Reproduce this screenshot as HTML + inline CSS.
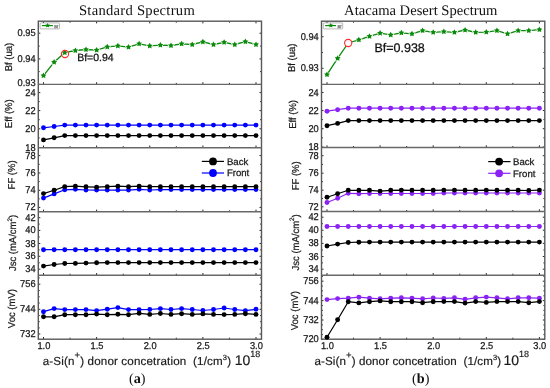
<!DOCTYPE html><html><head><meta charset="utf-8"><title>Spectrum plots</title><style>html,body{margin:0;padding:0;background:#fff;width:550px;height:388px;overflow:hidden}svg{display:block;filter:blur(0.3px)}text{text-rendering:geometricPrecision}</style></head><body>
<svg width="550" height="388" viewBox="0 0 550 388">
<rect width="550" height="388" fill="#fff"/>
<path d="M43.5 84.4v-2.2M43.5 21.2v2.2M70.06 84.4v-1.5M70.06 21.2v1.5M96.62 84.4v-2.2M96.62 21.2v2.2M123.19 84.4v-1.5M123.19 21.2v1.5M149.75 84.4v-2.2M149.75 21.2v2.2M176.31 84.4v-1.5M176.31 21.2v1.5M202.88 84.4v-2.2M202.88 21.2v2.2M229.44 84.4v-1.5M229.44 21.2v1.5M256 84.4v-2.2M256 21.2v2.2M38.3 33.2h2.0M261.5 33.2h-2.0M38.3 58.9h2.0M261.5 58.9h-2.0M38.3 84.4h2.0M261.5 84.4h-2.0M38.3 46.1h1.4M261.5 46.1h-1.4M38.3 71.6h1.4M261.5 71.6h-1.4M43.5 147.7v-2.2M70.06 147.7v-1.5M96.62 147.7v-2.2M123.19 147.7v-1.5M149.75 147.7v-2.2M176.31 147.7v-1.5M202.88 147.7v-2.2M229.44 147.7v-1.5M256 147.7v-2.2M38.3 92.6h2.0M261.5 92.6h-2.0M38.3 110.6h2.0M261.5 110.6h-2.0M38.3 128.8h2.0M261.5 128.8h-2.0M38.3 147.5h2.0M261.5 147.5h-2.0M38.3 101.6h1.4M261.5 101.6h-1.4M38.3 119.7h1.4M261.5 119.7h-1.4M38.3 137.9h1.4M261.5 137.9h-1.4M43.5 211.8v-2.2M70.06 211.8v-1.5M96.62 211.8v-2.2M123.19 211.8v-1.5M149.75 211.8v-2.2M176.31 211.8v-1.5M202.88 211.8v-2.2M229.44 211.8v-1.5M256 211.8v-2.2M38.3 155.6h2.0M261.5 155.6h-2.0M38.3 173h2.0M261.5 173h-2.0M38.3 190.3h2.0M261.5 190.3h-2.0M38.3 207.4h2.0M261.5 207.4h-2.0M38.3 164.3h1.4M261.5 164.3h-1.4M38.3 181.6h1.4M261.5 181.6h-1.4M38.3 198.9h1.4M261.5 198.9h-1.4M43.5 275.2v-2.2M70.06 275.2v-1.5M96.62 275.2v-2.2M123.19 275.2v-1.5M149.75 275.2v-2.2M176.31 275.2v-1.5M202.88 275.2v-2.2M229.44 275.2v-1.5M256 275.2v-2.2M38.3 217.7h2.0M261.5 217.7h-2.0M38.3 230.4h2.0M261.5 230.4h-2.0M38.3 243.5h2.0M261.5 243.5h-2.0M38.3 256.3h2.0M261.5 256.3h-2.0M38.3 269.2h2.0M261.5 269.2h-2.0M38.3 224.1h1.4M261.5 224.1h-1.4M38.3 237h1.4M261.5 237h-1.4M38.3 249.9h1.4M261.5 249.9h-1.4M38.3 262.8h1.4M261.5 262.8h-1.4M43.5 339.2v-2.2M70.06 339.2v-1.5M96.62 339.2v-2.2M123.19 339.2v-1.5M149.75 339.2v-2.2M176.31 339.2v-1.5M202.88 339.2v-2.2M229.44 339.2v-1.5M256 339.2v-2.2M38.3 284.2h2.0M261.5 284.2h-2.0M38.3 309.3h2.0M261.5 309.3h-2.0M38.3 334h2.0M261.5 334h-2.0M38.3 277.9h1.4M261.5 277.9h-1.4M38.3 290.5h1.4M261.5 290.5h-1.4M38.3 296.8h1.4M261.5 296.8h-1.4M38.3 303h1.4M261.5 303h-1.4M38.3 315.5h1.4M261.5 315.5h-1.4M38.3 321.7h1.4M261.5 321.7h-1.4M38.3 327.9h1.4M261.5 327.9h-1.4" stroke="#2a2a2a" stroke-width="1" fill="none"/>
<rect x="38.3" y="21.2" width="223.2" height="318" fill="none" stroke="#585858" stroke-width="1.4"/>
<path d="M38.3 84.4H261.5" stroke="#686868" stroke-width="1.4"/>
<path d="M38.3 147.7H261.5" stroke="#686868" stroke-width="1.4"/>
<path d="M38.3 211.8H261.5" stroke="#686868" stroke-width="1.4"/>
<path d="M38.3 275.2H261.5" stroke="#686868" stroke-width="1.4"/>
<text transform="translate(35.6 36.2) scale(0.2326 0.2475)" font-family="Liberation Sans" font-size="40" text-anchor="end" fill="#1a1a1a" stroke="#1a1a1a" stroke-width="1.051">0.95</text>
<text transform="translate(35.6 61.9) scale(0.2326 0.2475)" font-family="Liberation Sans" font-size="40" text-anchor="end" fill="#1a1a1a" stroke="#1a1a1a" stroke-width="1.051">0.94</text>
<text transform="translate(35.6 86.4) scale(0.2326 0.2475)" font-family="Liberation Sans" font-size="40" text-anchor="end" fill="#1a1a1a" stroke="#1a1a1a" stroke-width="1.051">0.93</text>
<text transform="translate(35.6 95.6) scale(0.2326 0.2475)" font-family="Liberation Sans" font-size="40" text-anchor="end" fill="#1a1a1a" stroke="#1a1a1a" stroke-width="1.051">24</text>
<text transform="translate(35.6 113.6) scale(0.2326 0.2475)" font-family="Liberation Sans" font-size="40" text-anchor="end" fill="#1a1a1a" stroke="#1a1a1a" stroke-width="1.051">22</text>
<text transform="translate(35.6 131.8) scale(0.2326 0.2475)" font-family="Liberation Sans" font-size="40" text-anchor="end" fill="#1a1a1a" stroke="#1a1a1a" stroke-width="1.051">20</text>
<text transform="translate(35.6 150.5) scale(0.2326 0.2475)" font-family="Liberation Sans" font-size="40" text-anchor="end" fill="#1a1a1a" stroke="#1a1a1a" stroke-width="1.051">18</text>
<text transform="translate(35.6 158.6) scale(0.2326 0.2475)" font-family="Liberation Sans" font-size="40" text-anchor="end" fill="#1a1a1a" stroke="#1a1a1a" stroke-width="1.051">78</text>
<text transform="translate(35.6 176) scale(0.2326 0.2475)" font-family="Liberation Sans" font-size="40" text-anchor="end" fill="#1a1a1a" stroke="#1a1a1a" stroke-width="1.051">76</text>
<text transform="translate(35.6 193.3) scale(0.2326 0.2475)" font-family="Liberation Sans" font-size="40" text-anchor="end" fill="#1a1a1a" stroke="#1a1a1a" stroke-width="1.051">74</text>
<text transform="translate(35.6 210.4) scale(0.2326 0.2475)" font-family="Liberation Sans" font-size="40" text-anchor="end" fill="#1a1a1a" stroke="#1a1a1a" stroke-width="1.051">72</text>
<text transform="translate(35.6 220.7) scale(0.2326 0.2475)" font-family="Liberation Sans" font-size="40" text-anchor="end" fill="#1a1a1a" stroke="#1a1a1a" stroke-width="1.051">42</text>
<text transform="translate(35.6 233.4) scale(0.2326 0.2475)" font-family="Liberation Sans" font-size="40" text-anchor="end" fill="#1a1a1a" stroke="#1a1a1a" stroke-width="1.051">40</text>
<text transform="translate(35.6 246.5) scale(0.2326 0.2475)" font-family="Liberation Sans" font-size="40" text-anchor="end" fill="#1a1a1a" stroke="#1a1a1a" stroke-width="1.051">38</text>
<text transform="translate(35.6 259.3) scale(0.2326 0.2475)" font-family="Liberation Sans" font-size="40" text-anchor="end" fill="#1a1a1a" stroke="#1a1a1a" stroke-width="1.051">36</text>
<text transform="translate(35.6 272.2) scale(0.2326 0.2475)" font-family="Liberation Sans" font-size="40" text-anchor="end" fill="#1a1a1a" stroke="#1a1a1a" stroke-width="1.051">34</text>
<text transform="translate(35.6 287.2) scale(0.2326 0.2475)" font-family="Liberation Sans" font-size="40" text-anchor="end" fill="#1a1a1a" stroke="#1a1a1a" stroke-width="1.051">756</text>
<text transform="translate(35.6 312.3) scale(0.2326 0.2475)" font-family="Liberation Sans" font-size="40" text-anchor="end" fill="#1a1a1a" stroke="#1a1a1a" stroke-width="1.051">744</text>
<text transform="translate(35.6 337) scale(0.2326 0.2475)" font-family="Liberation Sans" font-size="40" text-anchor="end" fill="#1a1a1a" stroke="#1a1a1a" stroke-width="1.051">732</text>
<text transform="translate(43.9 348.7) scale(0.2326 0.2475)" font-family="Liberation Sans" font-size="40" text-anchor="middle" fill="#1a1a1a" stroke="#1a1a1a" stroke-width="1.051">1.0</text>
<text transform="translate(97.03 348.7) scale(0.2326 0.2475)" font-family="Liberation Sans" font-size="40" text-anchor="middle" fill="#1a1a1a" stroke="#1a1a1a" stroke-width="1.051">1.5</text>
<text transform="translate(150.15 348.7) scale(0.2326 0.2475)" font-family="Liberation Sans" font-size="40" text-anchor="middle" fill="#1a1a1a" stroke="#1a1a1a" stroke-width="1.051">2.0</text>
<text transform="translate(203.28 348.7) scale(0.2326 0.2475)" font-family="Liberation Sans" font-size="40" text-anchor="middle" fill="#1a1a1a" stroke="#1a1a1a" stroke-width="1.051">2.5</text>
<text transform="translate(256.4 348.7) scale(0.2326 0.2475)" font-family="Liberation Sans" font-size="40" text-anchor="middle" fill="#1a1a1a" stroke="#1a1a1a" stroke-width="1.051">3.0</text>
<text transform="translate(11.9 57) rotate(-90) scale(0.95 1)" font-family="Liberation Sans" font-size="10" text-anchor="middle" fill="#1a1a1a" stroke="#1a1a1a" stroke-width="0.22">Bf (ua)</text>
<text transform="translate(12.2 113.7) rotate(-90) scale(0.95 1)" font-family="Liberation Sans" font-size="10" text-anchor="middle" fill="#1a1a1a" stroke="#1a1a1a" stroke-width="0.22">Eff (%)</text>
<text transform="translate(15.1 174.9) rotate(-90) scale(0.95 1)" font-family="Liberation Sans" font-size="10" text-anchor="middle" fill="#1a1a1a" stroke="#1a1a1a" stroke-width="0.22">FF (%)</text>
<text transform="translate(16.3 243) rotate(-90) scale(0.95 1)" font-family="Liberation Sans" font-size="10" text-anchor="middle" fill="#1a1a1a" stroke="#1a1a1a" stroke-width="0.22">Jsc (mA/cm<tspan font-size='6.5' dy='-4.6'>2</tspan><tspan dy='4.6'>)</tspan></text>
<text transform="translate(14.8 308.6) rotate(-90) scale(0.95 1)" font-family="Liberation Sans" font-size="10" text-anchor="middle" fill="#1a1a1a" stroke="#1a1a1a" stroke-width="0.22">Voc (mV)</text>
<text x="137" y="14.8" font-family="Liberation Serif" font-size="14.6" text-anchor="middle" font-weight="normal" fill="#111" letter-spacing="0.27">Standard Spectrum</text>
<text x="137.2" y="383.2" font-family="Liberation Serif" font-size="14.2" text-anchor="middle" font-weight="normal" fill="#111" >(<tspan font-weight="bold">a</tspan>)</text>
<text x="42.7" y="364.6" font-family="Liberation Sans" font-size="11.6" letter-spacing="0.15" fill="#1a1a1a" stroke="#1a1a1a" stroke-width="0.18">a-Si(n<tspan font-size="9.5" dy="-6.5">+</tspan><tspan dy="6.5">) donor concetration&#160; (1/cm</tspan><tspan font-size="7.5" dy="-4.8">3</tspan><tspan dy="4.8">)</tspan><tspan font-size="14" letter-spacing="0" dx="3.6">10</tspan><tspan font-size="9" dy="-8" letter-spacing="0">18</tspan></text>
<polyline points="43.5,75.6 54.13,62.2 64.75,52.6 75.38,50.5 86,49.5 96.62,50.1 107.25,46.9 117.88,45.9 128.5,47.1 139.12,43.8 149.75,45.9 160.38,45.1 171,45.5 181.62,43.8 192.25,44.5 202.88,41.9 213.5,44.5 224.13,42.3 234.75,44.5 245.38,41.7 256,44.5" fill="none" stroke="#0a8a0a" stroke-width="1.3" stroke-linejoin="round"/>
<polygon points="43.5,72.5 44.47,74.27 46.45,74.64 45.07,76.11 45.32,78.11 43.5,77.25 41.68,78.11 41.93,76.11 40.55,74.64 42.53,74.27" fill="#0a8a0a" stroke="#fff" stroke-width="1.3" paint-order="stroke" stroke-linejoin="round"/>
<polygon points="54.13,59.1 55.09,60.87 57.07,61.24 55.69,62.71 55.95,64.71 54.13,63.85 52.3,64.71 52.56,62.71 51.18,61.24 53.16,60.87" fill="#0a8a0a" stroke="#fff" stroke-width="1.3" paint-order="stroke" stroke-linejoin="round"/>
<polygon points="64.75,49.5 65.72,51.27 67.7,51.64 66.32,53.11 66.57,55.11 64.75,54.25 62.93,55.11 63.18,53.11 61.8,51.64 63.78,51.27" fill="#0a8a0a" stroke="#fff" stroke-width="1.3" paint-order="stroke" stroke-linejoin="round"/>
<polygon points="75.38,47.4 76.34,49.17 78.32,49.54 76.94,51.01 77.2,53.01 75.38,52.15 73.55,53.01 73.81,51.01 72.43,49.54 74.41,49.17" fill="#0a8a0a" stroke="#fff" stroke-width="1.3" paint-order="stroke" stroke-linejoin="round"/>
<polygon points="86,46.4 86.97,48.17 88.95,48.54 87.57,50.01 87.82,52.01 86,51.15 84.18,52.01 84.43,50.01 83.05,48.54 85.03,48.17" fill="#0a8a0a" stroke="#fff" stroke-width="1.3" paint-order="stroke" stroke-linejoin="round"/>
<polygon points="96.62,47 97.59,48.77 99.57,49.14 98.19,50.61 98.45,52.61 96.62,51.75 94.8,52.61 95.06,50.61 93.68,49.14 95.66,48.77" fill="#0a8a0a" stroke="#fff" stroke-width="1.3" paint-order="stroke" stroke-linejoin="round"/>
<polygon points="107.25,43.8 108.22,45.57 110.2,45.94 108.82,47.41 109.07,49.41 107.25,48.55 105.43,49.41 105.68,47.41 104.3,45.94 106.28,45.57" fill="#0a8a0a" stroke="#fff" stroke-width="1.3" paint-order="stroke" stroke-linejoin="round"/>
<polygon points="117.88,42.8 118.84,44.57 120.82,44.94 119.44,46.41 119.7,48.41 117.88,47.55 116.05,48.41 116.31,46.41 114.93,44.94 116.91,44.57" fill="#0a8a0a" stroke="#fff" stroke-width="1.3" paint-order="stroke" stroke-linejoin="round"/>
<polygon points="128.5,44 129.47,45.77 131.45,46.14 130.07,47.61 130.32,49.61 128.5,48.75 126.68,49.61 126.93,47.61 125.55,46.14 127.53,45.77" fill="#0a8a0a" stroke="#fff" stroke-width="1.3" paint-order="stroke" stroke-linejoin="round"/>
<polygon points="139.12,40.7 140.09,42.47 142.07,42.84 140.69,44.31 140.95,46.31 139.12,45.45 137.3,46.31 137.56,44.31 136.18,42.84 138.16,42.47" fill="#0a8a0a" stroke="#fff" stroke-width="1.3" paint-order="stroke" stroke-linejoin="round"/>
<polygon points="149.75,42.8 150.72,44.57 152.7,44.94 151.32,46.41 151.57,48.41 149.75,47.55 147.93,48.41 148.18,46.41 146.8,44.94 148.78,44.57" fill="#0a8a0a" stroke="#fff" stroke-width="1.3" paint-order="stroke" stroke-linejoin="round"/>
<polygon points="160.38,42 161.34,43.77 163.32,44.14 161.94,45.61 162.2,47.61 160.38,46.75 158.55,47.61 158.81,45.61 157.43,44.14 159.41,43.77" fill="#0a8a0a" stroke="#fff" stroke-width="1.3" paint-order="stroke" stroke-linejoin="round"/>
<polygon points="171,42.4 171.97,44.17 173.95,44.54 172.57,46.01 172.82,48.01 171,47.15 169.18,48.01 169.43,46.01 168.05,44.54 170.03,44.17" fill="#0a8a0a" stroke="#fff" stroke-width="1.3" paint-order="stroke" stroke-linejoin="round"/>
<polygon points="181.62,40.7 182.59,42.47 184.57,42.84 183.19,44.31 183.45,46.31 181.62,45.45 179.8,46.31 180.06,44.31 178.68,42.84 180.66,42.47" fill="#0a8a0a" stroke="#fff" stroke-width="1.3" paint-order="stroke" stroke-linejoin="round"/>
<polygon points="192.25,41.4 193.22,43.17 195.2,43.54 193.82,45.01 194.07,47.01 192.25,46.15 190.43,47.01 190.68,45.01 189.3,43.54 191.28,43.17" fill="#0a8a0a" stroke="#fff" stroke-width="1.3" paint-order="stroke" stroke-linejoin="round"/>
<polygon points="202.88,38.8 203.84,40.57 205.82,40.94 204.44,42.41 204.7,44.41 202.88,43.55 201.05,44.41 201.31,42.41 199.93,40.94 201.91,40.57" fill="#0a8a0a" stroke="#fff" stroke-width="1.3" paint-order="stroke" stroke-linejoin="round"/>
<polygon points="213.5,41.4 214.47,43.17 216.45,43.54 215.07,45.01 215.32,47.01 213.5,46.15 211.68,47.01 211.93,45.01 210.55,43.54 212.53,43.17" fill="#0a8a0a" stroke="#fff" stroke-width="1.3" paint-order="stroke" stroke-linejoin="round"/>
<polygon points="224.13,39.2 225.09,40.97 227.07,41.34 225.69,42.81 225.95,44.81 224.13,43.95 222.3,44.81 222.56,42.81 221.18,41.34 223.16,40.97" fill="#0a8a0a" stroke="#fff" stroke-width="1.3" paint-order="stroke" stroke-linejoin="round"/>
<polygon points="234.75,41.4 235.72,43.17 237.7,43.54 236.32,45.01 236.57,47.01 234.75,46.15 232.93,47.01 233.18,45.01 231.8,43.54 233.78,43.17" fill="#0a8a0a" stroke="#fff" stroke-width="1.3" paint-order="stroke" stroke-linejoin="round"/>
<polygon points="245.38,38.6 246.34,40.37 248.32,40.74 246.94,42.21 247.2,44.21 245.38,43.35 243.55,44.21 243.81,42.21 242.43,40.74 244.41,40.37" fill="#0a8a0a" stroke="#fff" stroke-width="1.3" paint-order="stroke" stroke-linejoin="round"/>
<polygon points="256,41.4 256.97,43.17 258.95,43.54 257.57,45.01 257.82,47.01 256,46.15 254.18,47.01 254.43,45.01 253.05,43.54 255.03,43.17" fill="#0a8a0a" stroke="#fff" stroke-width="1.3" paint-order="stroke" stroke-linejoin="round"/>
<circle cx="65" cy="54" r="3.6" fill="none" stroke="#ff2a2a" stroke-width="1.1"/>
<text x="77.2" y="61.3" font-family="Liberation Sans" font-size="10.5" text-anchor="start" font-weight="normal" fill="#111" stroke="#111" stroke-width="0.26" >Bf=0.94</text>
<rect x="40.1" y="22.9" width="19.4" height="6" rx="1" fill="#fff" stroke="#9a9a9a" stroke-width="0.7"/>
<path d="M41.9 25.6h11" stroke="#0a8a0a" stroke-width="1.2"/>
<polygon points="47.6,22.9 48.36,24.45 50.07,24.7 48.84,25.9 49.13,27.6 47.6,26.8 46.07,27.6 46.36,25.9 45.13,24.7 46.84,24.45" fill="#0a8a0a"/>
<text x="54.3" y="27.9" font-family="Liberation Sans" font-size="4.2" text-anchor="start" font-weight="normal" fill="#777" stroke="#777" stroke-width="0.26" >Bf</text>
<polyline points="43.5,127.8 54.13,126.5 64.75,125.1 75.38,125.1 86,125.1 96.62,125.1 107.25,125.1 117.88,125.1 128.5,125.1 139.12,125.1 149.75,125.1 160.38,125.1 171,125.1 181.62,125.1 192.25,125.1 202.88,125.1 213.5,125.1 224.13,125.1 234.75,125.1 245.38,125.1 256,125.1" fill="none" stroke="#0000ff" stroke-width="1.2" stroke-linejoin="round"/>
<circle cx="43.5" cy="127.8" r="2.45" fill="#0000ff"/><circle cx="54.13" cy="126.5" r="2.45" fill="#0000ff"/><circle cx="64.75" cy="125.1" r="2.45" fill="#0000ff"/><circle cx="75.38" cy="125.1" r="2.45" fill="#0000ff"/><circle cx="86" cy="125.1" r="2.45" fill="#0000ff"/><circle cx="96.62" cy="125.1" r="2.45" fill="#0000ff"/><circle cx="107.25" cy="125.1" r="2.45" fill="#0000ff"/><circle cx="117.88" cy="125.1" r="2.45" fill="#0000ff"/><circle cx="128.5" cy="125.1" r="2.45" fill="#0000ff"/><circle cx="139.12" cy="125.1" r="2.45" fill="#0000ff"/><circle cx="149.75" cy="125.1" r="2.45" fill="#0000ff"/><circle cx="160.38" cy="125.1" r="2.45" fill="#0000ff"/><circle cx="171" cy="125.1" r="2.45" fill="#0000ff"/><circle cx="181.62" cy="125.1" r="2.45" fill="#0000ff"/><circle cx="192.25" cy="125.1" r="2.45" fill="#0000ff"/><circle cx="202.88" cy="125.1" r="2.45" fill="#0000ff"/><circle cx="213.5" cy="125.1" r="2.45" fill="#0000ff"/><circle cx="224.13" cy="125.1" r="2.45" fill="#0000ff"/><circle cx="234.75" cy="125.1" r="2.45" fill="#0000ff"/><circle cx="245.38" cy="125.1" r="2.45" fill="#0000ff"/><circle cx="256" cy="125.1" r="2.45" fill="#0000ff"/>
<polyline points="43.5,139.9 54.13,137.8 64.75,135.6 75.38,135.6 86,135.6 96.62,135.6 107.25,135.6 117.88,135.6 128.5,135.6 139.12,135.6 149.75,135.6 160.38,135.6 171,135.6 181.62,135.6 192.25,135.6 202.88,135.6 213.5,135.6 224.13,135.6 234.75,135.6 245.38,135.6 256,135.6" fill="none" stroke="#000000" stroke-width="1.2" stroke-linejoin="round"/>
<circle cx="43.5" cy="139.9" r="2.45" fill="#000000"/><circle cx="54.13" cy="137.8" r="2.45" fill="#000000"/><circle cx="64.75" cy="135.6" r="2.45" fill="#000000"/><circle cx="75.38" cy="135.6" r="2.45" fill="#000000"/><circle cx="86" cy="135.6" r="2.45" fill="#000000"/><circle cx="96.62" cy="135.6" r="2.45" fill="#000000"/><circle cx="107.25" cy="135.6" r="2.45" fill="#000000"/><circle cx="117.88" cy="135.6" r="2.45" fill="#000000"/><circle cx="128.5" cy="135.6" r="2.45" fill="#000000"/><circle cx="139.12" cy="135.6" r="2.45" fill="#000000"/><circle cx="149.75" cy="135.6" r="2.45" fill="#000000"/><circle cx="160.38" cy="135.6" r="2.45" fill="#000000"/><circle cx="171" cy="135.6" r="2.45" fill="#000000"/><circle cx="181.62" cy="135.6" r="2.45" fill="#000000"/><circle cx="192.25" cy="135.6" r="2.45" fill="#000000"/><circle cx="202.88" cy="135.6" r="2.45" fill="#000000"/><circle cx="213.5" cy="135.6" r="2.45" fill="#000000"/><circle cx="224.13" cy="135.6" r="2.45" fill="#000000"/><circle cx="234.75" cy="135.6" r="2.45" fill="#000000"/><circle cx="245.38" cy="135.6" r="2.45" fill="#000000"/><circle cx="256" cy="135.6" r="2.45" fill="#000000"/>
<polyline points="43.5,198.1 54.13,193.9 64.75,189.8 75.38,189.3 86,190 96.62,190.1 107.25,190.1 117.88,190.1 128.5,190.1 139.12,189.3 149.75,190 160.38,189.6 171,189.6 181.62,189.6 192.25,189.6 202.88,189.6 213.5,189.6 224.13,189.6 234.75,189.6 245.38,189.6 256,189.6" fill="none" stroke="#0000ff" stroke-width="1.2" stroke-linejoin="round"/>
<circle cx="43.5" cy="198.1" r="2.45" fill="#0000ff"/><circle cx="54.13" cy="193.9" r="2.45" fill="#0000ff"/><circle cx="64.75" cy="189.8" r="2.45" fill="#0000ff"/><circle cx="75.38" cy="189.3" r="2.45" fill="#0000ff"/><circle cx="86" cy="190" r="2.45" fill="#0000ff"/><circle cx="96.62" cy="190.1" r="2.45" fill="#0000ff"/><circle cx="107.25" cy="190.1" r="2.45" fill="#0000ff"/><circle cx="117.88" cy="190.1" r="2.45" fill="#0000ff"/><circle cx="128.5" cy="190.1" r="2.45" fill="#0000ff"/><circle cx="139.12" cy="189.3" r="2.45" fill="#0000ff"/><circle cx="149.75" cy="190" r="2.45" fill="#0000ff"/><circle cx="160.38" cy="189.6" r="2.45" fill="#0000ff"/><circle cx="171" cy="189.6" r="2.45" fill="#0000ff"/><circle cx="181.62" cy="189.6" r="2.45" fill="#0000ff"/><circle cx="192.25" cy="189.6" r="2.45" fill="#0000ff"/><circle cx="202.88" cy="189.6" r="2.45" fill="#0000ff"/><circle cx="213.5" cy="189.6" r="2.45" fill="#0000ff"/><circle cx="224.13" cy="189.6" r="2.45" fill="#0000ff"/><circle cx="234.75" cy="189.6" r="2.45" fill="#0000ff"/><circle cx="245.38" cy="189.6" r="2.45" fill="#0000ff"/><circle cx="256" cy="189.6" r="2.45" fill="#0000ff"/>
<polyline points="43.5,193.6 54.13,190.3 64.75,186.6 75.38,186.2 86,186.8 96.62,187.2 107.25,186.7 117.88,186.2 128.5,186.7 139.12,186.2 149.75,186.7 160.38,186.7 171,186.7 181.62,186.7 192.25,186.7 202.88,186.7 213.5,186.7 224.13,186.7 234.75,186.7 245.38,186.7 256,186.7" fill="none" stroke="#000000" stroke-width="1.2" stroke-linejoin="round"/>
<circle cx="43.5" cy="193.6" r="2.45" fill="#000000"/><circle cx="54.13" cy="190.3" r="2.45" fill="#000000"/><circle cx="64.75" cy="186.6" r="2.45" fill="#000000"/><circle cx="75.38" cy="186.2" r="2.45" fill="#000000"/><circle cx="86" cy="186.8" r="2.45" fill="#000000"/><circle cx="96.62" cy="187.2" r="2.45" fill="#000000"/><circle cx="107.25" cy="186.7" r="2.45" fill="#000000"/><circle cx="117.88" cy="186.2" r="2.45" fill="#000000"/><circle cx="128.5" cy="186.7" r="2.45" fill="#000000"/><circle cx="139.12" cy="186.2" r="2.45" fill="#000000"/><circle cx="149.75" cy="186.7" r="2.45" fill="#000000"/><circle cx="160.38" cy="186.7" r="2.45" fill="#000000"/><circle cx="171" cy="186.7" r="2.45" fill="#000000"/><circle cx="181.62" cy="186.7" r="2.45" fill="#000000"/><circle cx="192.25" cy="186.7" r="2.45" fill="#000000"/><circle cx="202.88" cy="186.7" r="2.45" fill="#000000"/><circle cx="213.5" cy="186.7" r="2.45" fill="#000000"/><circle cx="224.13" cy="186.7" r="2.45" fill="#000000"/><circle cx="234.75" cy="186.7" r="2.45" fill="#000000"/><circle cx="245.38" cy="186.7" r="2.45" fill="#000000"/><circle cx="256" cy="186.7" r="2.45" fill="#000000"/>
<polyline points="43.5,249.7 54.13,249.7 64.75,249.7 75.38,249.7 86,249.7 96.62,249.7 107.25,249.7 117.88,249.7 128.5,249.7 139.12,249.7 149.75,249.7 160.38,249.7 171,249.7 181.62,249.7 192.25,249.7 202.88,249.7 213.5,249.7 224.13,249.7 234.75,249.7 245.38,249.7 256,249.7" fill="none" stroke="#0000ff" stroke-width="1.2" stroke-linejoin="round"/>
<circle cx="43.5" cy="249.7" r="2.45" fill="#0000ff"/><circle cx="54.13" cy="249.7" r="2.45" fill="#0000ff"/><circle cx="64.75" cy="249.7" r="2.45" fill="#0000ff"/><circle cx="75.38" cy="249.7" r="2.45" fill="#0000ff"/><circle cx="86" cy="249.7" r="2.45" fill="#0000ff"/><circle cx="96.62" cy="249.7" r="2.45" fill="#0000ff"/><circle cx="107.25" cy="249.7" r="2.45" fill="#0000ff"/><circle cx="117.88" cy="249.7" r="2.45" fill="#0000ff"/><circle cx="128.5" cy="249.7" r="2.45" fill="#0000ff"/><circle cx="139.12" cy="249.7" r="2.45" fill="#0000ff"/><circle cx="149.75" cy="249.7" r="2.45" fill="#0000ff"/><circle cx="160.38" cy="249.7" r="2.45" fill="#0000ff"/><circle cx="171" cy="249.7" r="2.45" fill="#0000ff"/><circle cx="181.62" cy="249.7" r="2.45" fill="#0000ff"/><circle cx="192.25" cy="249.7" r="2.45" fill="#0000ff"/><circle cx="202.88" cy="249.7" r="2.45" fill="#0000ff"/><circle cx="213.5" cy="249.7" r="2.45" fill="#0000ff"/><circle cx="224.13" cy="249.7" r="2.45" fill="#0000ff"/><circle cx="234.75" cy="249.7" r="2.45" fill="#0000ff"/><circle cx="245.38" cy="249.7" r="2.45" fill="#0000ff"/><circle cx="256" cy="249.7" r="2.45" fill="#0000ff"/>
<polyline points="43.5,266.1 54.13,264.5 64.75,263.5 75.38,263.4 86,263.1 96.62,262.8 107.25,262.6 117.88,262.6 128.5,262.6 139.12,262.6 149.75,262.6 160.38,262.6 171,262.6 181.62,262.6 192.25,262.6 202.88,262.6 213.5,262.6 224.13,262.6 234.75,262.6 245.38,262.6 256,262.6" fill="none" stroke="#000000" stroke-width="1.2" stroke-linejoin="round"/>
<circle cx="43.5" cy="266.1" r="2.45" fill="#000000"/><circle cx="54.13" cy="264.5" r="2.45" fill="#000000"/><circle cx="64.75" cy="263.5" r="2.45" fill="#000000"/><circle cx="75.38" cy="263.4" r="2.45" fill="#000000"/><circle cx="86" cy="263.1" r="2.45" fill="#000000"/><circle cx="96.62" cy="262.8" r="2.45" fill="#000000"/><circle cx="107.25" cy="262.6" r="2.45" fill="#000000"/><circle cx="117.88" cy="262.6" r="2.45" fill="#000000"/><circle cx="128.5" cy="262.6" r="2.45" fill="#000000"/><circle cx="139.12" cy="262.6" r="2.45" fill="#000000"/><circle cx="149.75" cy="262.6" r="2.45" fill="#000000"/><circle cx="160.38" cy="262.6" r="2.45" fill="#000000"/><circle cx="171" cy="262.6" r="2.45" fill="#000000"/><circle cx="181.62" cy="262.6" r="2.45" fill="#000000"/><circle cx="192.25" cy="262.6" r="2.45" fill="#000000"/><circle cx="202.88" cy="262.6" r="2.45" fill="#000000"/><circle cx="213.5" cy="262.6" r="2.45" fill="#000000"/><circle cx="224.13" cy="262.6" r="2.45" fill="#000000"/><circle cx="234.75" cy="262.6" r="2.45" fill="#000000"/><circle cx="245.38" cy="262.6" r="2.45" fill="#000000"/><circle cx="256" cy="262.6" r="2.45" fill="#000000"/>
<polyline points="43.5,311.7 54.13,308.6 64.75,309.6 75.38,309.6 86,309.6 96.62,310.6 107.25,309.2 117.88,307.6 128.5,309.6 139.12,309.6 149.75,309.5 160.38,308.6 171,309.5 181.62,308.6 192.25,309.5 202.88,310.5 213.5,309.5 224.13,308 234.75,309.5 245.38,310.7 256,309.3" fill="none" stroke="#0000ff" stroke-width="1.2" stroke-linejoin="round"/>
<circle cx="43.5" cy="311.7" r="2.45" fill="#0000ff"/><circle cx="54.13" cy="308.6" r="2.45" fill="#0000ff"/><circle cx="64.75" cy="309.6" r="2.45" fill="#0000ff"/><circle cx="75.38" cy="309.6" r="2.45" fill="#0000ff"/><circle cx="86" cy="309.6" r="2.45" fill="#0000ff"/><circle cx="96.62" cy="310.6" r="2.45" fill="#0000ff"/><circle cx="107.25" cy="309.2" r="2.45" fill="#0000ff"/><circle cx="117.88" cy="307.6" r="2.45" fill="#0000ff"/><circle cx="128.5" cy="309.6" r="2.45" fill="#0000ff"/><circle cx="139.12" cy="309.6" r="2.45" fill="#0000ff"/><circle cx="149.75" cy="309.5" r="2.45" fill="#0000ff"/><circle cx="160.38" cy="308.6" r="2.45" fill="#0000ff"/><circle cx="171" cy="309.5" r="2.45" fill="#0000ff"/><circle cx="181.62" cy="308.6" r="2.45" fill="#0000ff"/><circle cx="192.25" cy="309.5" r="2.45" fill="#0000ff"/><circle cx="202.88" cy="310.5" r="2.45" fill="#0000ff"/><circle cx="213.5" cy="309.5" r="2.45" fill="#0000ff"/><circle cx="224.13" cy="308" r="2.45" fill="#0000ff"/><circle cx="234.75" cy="309.5" r="2.45" fill="#0000ff"/><circle cx="245.38" cy="310.7" r="2.45" fill="#0000ff"/><circle cx="256" cy="309.3" r="2.45" fill="#0000ff"/>
<polyline points="43.5,316.8 54.13,316.8 64.75,314.7 75.38,314.7 86,314.7 96.62,314.1 107.25,314.7 117.88,314.3 128.5,314.7 139.12,313.3 149.75,314.4 160.38,313.5 171,314.4 181.62,313.7 192.25,314.4 202.88,313.9 213.5,314.4 224.13,314.6 234.75,314.4 245.38,313.7 256,314.4" fill="none" stroke="#000000" stroke-width="1.2" stroke-linejoin="round"/>
<circle cx="43.5" cy="316.8" r="2.45" fill="#000000"/><circle cx="54.13" cy="316.8" r="2.45" fill="#000000"/><circle cx="64.75" cy="314.7" r="2.45" fill="#000000"/><circle cx="75.38" cy="314.7" r="2.45" fill="#000000"/><circle cx="86" cy="314.7" r="2.45" fill="#000000"/><circle cx="96.62" cy="314.1" r="2.45" fill="#000000"/><circle cx="107.25" cy="314.7" r="2.45" fill="#000000"/><circle cx="117.88" cy="314.3" r="2.45" fill="#000000"/><circle cx="128.5" cy="314.7" r="2.45" fill="#000000"/><circle cx="139.12" cy="313.3" r="2.45" fill="#000000"/><circle cx="149.75" cy="314.4" r="2.45" fill="#000000"/><circle cx="160.38" cy="313.5" r="2.45" fill="#000000"/><circle cx="171" cy="314.4" r="2.45" fill="#000000"/><circle cx="181.62" cy="313.7" r="2.45" fill="#000000"/><circle cx="192.25" cy="314.4" r="2.45" fill="#000000"/><circle cx="202.88" cy="313.9" r="2.45" fill="#000000"/><circle cx="213.5" cy="314.4" r="2.45" fill="#000000"/><circle cx="224.13" cy="314.6" r="2.45" fill="#000000"/><circle cx="234.75" cy="314.4" r="2.45" fill="#000000"/><circle cx="245.38" cy="313.7" r="2.45" fill="#000000"/><circle cx="256" cy="314.4" r="2.45" fill="#000000"/>
<path d="M201.8 161.4H224" stroke="#000" stroke-width="1.2"/>
<circle cx="213" cy="161.4" r="3.9" fill="#000"/>
<path d="M201.8 173H224" stroke="#0000ff" stroke-width="1.2"/>
<circle cx="213" cy="173" r="3.9" fill="#0000ff"/>
<text x="226.9" y="164.7" font-family="Liberation Sans" font-size="9.6" text-anchor="start" font-weight="normal" fill="#1a1a1a" stroke="#1a1a1a" stroke-width="0.26" >Back</text>
<text x="226.9" y="176.3" font-family="Liberation Sans" font-size="9.6" text-anchor="start" font-weight="normal" fill="#1a1a1a" stroke="#1a1a1a" stroke-width="0.26" >Front</text>
<path d="M327 84.4v-2.2M327 21.2v2.2M353.55 84.4v-1.5M353.55 21.2v1.5M380.1 84.4v-2.2M380.1 21.2v2.2M406.65 84.4v-1.5M406.65 21.2v1.5M433.2 84.4v-2.2M433.2 21.2v2.2M459.75 84.4v-1.5M459.75 21.2v1.5M486.3 84.4v-2.2M486.3 21.2v2.2M512.85 84.4v-1.5M512.85 21.2v1.5M539.4 84.4v-2.2M539.4 21.2v2.2M321.5 36.7h2.0M544.8 36.7h-2.0M321.5 68.3h2.0M544.8 68.3h-2.0M321.5 52.5h1.4M544.8 52.5h-1.4M327 147.5v-2.2M353.55 147.5v-1.5M380.1 147.5v-2.2M406.65 147.5v-1.5M433.2 147.5v-2.2M459.75 147.5v-1.5M486.3 147.5v-2.2M512.85 147.5v-1.5M539.4 147.5v-2.2M321.5 92.5h2.0M544.8 92.5h-2.0M321.5 110.5h2.0M544.8 110.5h-2.0M321.5 128.7h2.0M544.8 128.7h-2.0M321.5 147h2.0M544.8 147h-2.0M321.5 101.5h1.4M544.8 101.5h-1.4M321.5 119.6h1.4M544.8 119.6h-1.4M321.5 137.8h1.4M544.8 137.8h-1.4M327 211.5v-2.2M353.55 211.5v-1.5M380.1 211.5v-2.2M406.65 211.5v-1.5M433.2 211.5v-2.2M459.75 211.5v-1.5M486.3 211.5v-2.2M512.85 211.5v-1.5M539.4 211.5v-2.2M321.5 155.7h2.0M544.8 155.7h-2.0M321.5 173.2h2.0M544.8 173.2h-2.0M321.5 190.2h2.0M544.8 190.2h-2.0M321.5 206.8h2.0M544.8 206.8h-2.0M321.5 164.4h1.4M544.8 164.4h-1.4M321.5 181.7h1.4M544.8 181.7h-1.4M321.5 198.5h1.4M544.8 198.5h-1.4M327 275.2v-2.2M353.55 275.2v-1.5M380.1 275.2v-2.2M406.65 275.2v-1.5M433.2 275.2v-2.2M459.75 275.2v-1.5M486.3 275.2v-2.2M512.85 275.2v-1.5M539.4 275.2v-2.2M321.5 217.2h2.0M544.8 217.2h-2.0M321.5 230.2h2.0M544.8 230.2h-2.0M321.5 243.4h2.0M544.8 243.4h-2.0M321.5 256.5h2.0M544.8 256.5h-2.0M321.5 269.2h2.0M544.8 269.2h-2.0M321.5 223.7h1.4M544.8 223.7h-1.4M321.5 236.8h1.4M544.8 236.8h-1.4M321.5 250h1.4M544.8 250h-1.4M321.5 262.9h1.4M544.8 262.9h-1.4M327 339.2v-2.2M353.55 339.2v-1.5M380.1 339.2v-2.2M406.65 339.2v-1.5M433.2 339.2v-2.2M459.75 339.2v-1.5M486.3 339.2v-2.2M512.85 339.2v-1.5M539.4 339.2v-2.2M321.5 281.2h2.0M544.8 281.2h-2.0M321.5 300.6h2.0M544.8 300.6h-2.0M321.5 320h2.0M544.8 320h-2.0M321.5 339.4h2.0M544.8 339.4h-2.0M321.5 276.4h1.4M544.8 276.4h-1.4M321.5 286.1h1.4M544.8 286.1h-1.4M321.5 290.9h1.4M544.8 290.9h-1.4M321.5 295.8h1.4M544.8 295.8h-1.4M321.5 305.5h1.4M544.8 305.5h-1.4M321.5 310.3h1.4M544.8 310.3h-1.4M321.5 315.2h1.4M544.8 315.2h-1.4M321.5 324.9h1.4M544.8 324.9h-1.4M321.5 329.7h1.4M544.8 329.7h-1.4M321.5 334.6h1.4M544.8 334.6h-1.4" stroke="#2a2a2a" stroke-width="1" fill="none"/>
<rect x="321.5" y="21.2" width="223.3" height="318" fill="none" stroke="#585858" stroke-width="1.4"/>
<path d="M321.5 84.4H544.8" stroke="#686868" stroke-width="1.4"/>
<path d="M321.5 147.5H544.8" stroke="#686868" stroke-width="1.4"/>
<path d="M321.5 211.5H544.8" stroke="#686868" stroke-width="1.4"/>
<path d="M321.5 275.2H544.8" stroke="#686868" stroke-width="1.4"/>
<text transform="translate(318.8 39.7) scale(0.2326 0.2475)" font-family="Liberation Sans" font-size="40" text-anchor="end" fill="#1a1a1a" stroke="#1a1a1a" stroke-width="1.051">0.94</text>
<text transform="translate(318.8 71.3) scale(0.2326 0.2475)" font-family="Liberation Sans" font-size="40" text-anchor="end" fill="#1a1a1a" stroke="#1a1a1a" stroke-width="1.051">0.93</text>
<text transform="translate(318.8 95.5) scale(0.2326 0.2475)" font-family="Liberation Sans" font-size="40" text-anchor="end" fill="#1a1a1a" stroke="#1a1a1a" stroke-width="1.051">24</text>
<text transform="translate(318.8 113.5) scale(0.2326 0.2475)" font-family="Liberation Sans" font-size="40" text-anchor="end" fill="#1a1a1a" stroke="#1a1a1a" stroke-width="1.051">22</text>
<text transform="translate(318.8 131.7) scale(0.2326 0.2475)" font-family="Liberation Sans" font-size="40" text-anchor="end" fill="#1a1a1a" stroke="#1a1a1a" stroke-width="1.051">20</text>
<text transform="translate(318.8 150) scale(0.2326 0.2475)" font-family="Liberation Sans" font-size="40" text-anchor="end" fill="#1a1a1a" stroke="#1a1a1a" stroke-width="1.051">18</text>
<text transform="translate(318.8 158.7) scale(0.2326 0.2475)" font-family="Liberation Sans" font-size="40" text-anchor="end" fill="#1a1a1a" stroke="#1a1a1a" stroke-width="1.051">78</text>
<text transform="translate(318.8 176.2) scale(0.2326 0.2475)" font-family="Liberation Sans" font-size="40" text-anchor="end" fill="#1a1a1a" stroke="#1a1a1a" stroke-width="1.051">76</text>
<text transform="translate(318.8 193.2) scale(0.2326 0.2475)" font-family="Liberation Sans" font-size="40" text-anchor="end" fill="#1a1a1a" stroke="#1a1a1a" stroke-width="1.051">74</text>
<text transform="translate(318.8 209.8) scale(0.2326 0.2475)" font-family="Liberation Sans" font-size="40" text-anchor="end" fill="#1a1a1a" stroke="#1a1a1a" stroke-width="1.051">72</text>
<text transform="translate(318.8 220.2) scale(0.2326 0.2475)" font-family="Liberation Sans" font-size="40" text-anchor="end" fill="#1a1a1a" stroke="#1a1a1a" stroke-width="1.051">42</text>
<text transform="translate(318.8 233.2) scale(0.2326 0.2475)" font-family="Liberation Sans" font-size="40" text-anchor="end" fill="#1a1a1a" stroke="#1a1a1a" stroke-width="1.051">40</text>
<text transform="translate(318.8 246.4) scale(0.2326 0.2475)" font-family="Liberation Sans" font-size="40" text-anchor="end" fill="#1a1a1a" stroke="#1a1a1a" stroke-width="1.051">38</text>
<text transform="translate(318.8 259.5) scale(0.2326 0.2475)" font-family="Liberation Sans" font-size="40" text-anchor="end" fill="#1a1a1a" stroke="#1a1a1a" stroke-width="1.051">36</text>
<text transform="translate(318.8 272.2) scale(0.2326 0.2475)" font-family="Liberation Sans" font-size="40" text-anchor="end" fill="#1a1a1a" stroke="#1a1a1a" stroke-width="1.051">34</text>
<text transform="translate(318.8 284.2) scale(0.2326 0.2475)" font-family="Liberation Sans" font-size="40" text-anchor="end" fill="#1a1a1a" stroke="#1a1a1a" stroke-width="1.051">756</text>
<text transform="translate(318.8 303.6) scale(0.2326 0.2475)" font-family="Liberation Sans" font-size="40" text-anchor="end" fill="#1a1a1a" stroke="#1a1a1a" stroke-width="1.051">744</text>
<text transform="translate(318.8 323) scale(0.2326 0.2475)" font-family="Liberation Sans" font-size="40" text-anchor="end" fill="#1a1a1a" stroke="#1a1a1a" stroke-width="1.051">732</text>
<text transform="translate(318.8 342.4) scale(0.2326 0.2475)" font-family="Liberation Sans" font-size="40" text-anchor="end" fill="#1a1a1a" stroke="#1a1a1a" stroke-width="1.051">720</text>
<text transform="translate(327.4 348.7) scale(0.2326 0.2475)" font-family="Liberation Sans" font-size="40" text-anchor="middle" fill="#1a1a1a" stroke="#1a1a1a" stroke-width="1.051">1.0</text>
<text transform="translate(380.5 348.7) scale(0.2326 0.2475)" font-family="Liberation Sans" font-size="40" text-anchor="middle" fill="#1a1a1a" stroke="#1a1a1a" stroke-width="1.051">1.5</text>
<text transform="translate(433.6 348.7) scale(0.2326 0.2475)" font-family="Liberation Sans" font-size="40" text-anchor="middle" fill="#1a1a1a" stroke="#1a1a1a" stroke-width="1.051">2.0</text>
<text transform="translate(486.7 348.7) scale(0.2326 0.2475)" font-family="Liberation Sans" font-size="40" text-anchor="middle" fill="#1a1a1a" stroke="#1a1a1a" stroke-width="1.051">2.5</text>
<text transform="translate(539.8 348.7) scale(0.2326 0.2475)" font-family="Liberation Sans" font-size="40" text-anchor="middle" fill="#1a1a1a" stroke="#1a1a1a" stroke-width="1.051">3.0</text>
<text transform="translate(294.6 57.8) rotate(-90) scale(0.95 1)" font-family="Liberation Sans" font-size="10" text-anchor="middle" fill="#1a1a1a" stroke="#1a1a1a" stroke-width="0.22">Bf (ua)</text>
<text transform="translate(296.2 114.4) rotate(-90) scale(0.95 1)" font-family="Liberation Sans" font-size="10" text-anchor="middle" fill="#1a1a1a" stroke="#1a1a1a" stroke-width="0.22">Eff (%)</text>
<text transform="translate(298.7 175.8) rotate(-90) scale(0.95 1)" font-family="Liberation Sans" font-size="10" text-anchor="middle" fill="#1a1a1a" stroke="#1a1a1a" stroke-width="0.22">FF (%)</text>
<text transform="translate(299 242.4) rotate(-90) scale(0.95 1)" font-family="Liberation Sans" font-size="10" text-anchor="middle" fill="#1a1a1a" stroke="#1a1a1a" stroke-width="0.22">Jsc (mA/cm<tspan font-size='6.5' dy='-4.6'>2</tspan><tspan dy='4.6'>)</tspan></text>
<text transform="translate(297.9 310.7) rotate(-90) scale(0.95 1)" font-family="Liberation Sans" font-size="10" text-anchor="middle" fill="#1a1a1a" stroke="#1a1a1a" stroke-width="0.22">Voc (mV)</text>
<text x="420.7" y="14.8" font-family="Liberation Serif" font-size="14.6" text-anchor="middle" font-weight="normal" fill="#111" letter-spacing="0">Atacama Desert Spectrum</text>
<text x="420.7" y="383.2" font-family="Liberation Serif" font-size="14.2" text-anchor="middle" font-weight="normal" fill="#111" >(<tspan font-weight="bold">b</tspan>)</text>
<text x="314.5" y="364.6" font-family="Liberation Sans" font-size="11.6" letter-spacing="0.1" fill="#1a1a1a" stroke="#1a1a1a" stroke-width="0.18">a-Si(n<tspan font-size="9.5" dy="-6.5">+</tspan><tspan dy="6.5">) donor concetration&#160; (1/cm</tspan><tspan font-size="7.5" dy="-4.8">3</tspan><tspan dy="4.8">)</tspan><tspan font-size="14" letter-spacing="0" dx="2.2">10</tspan><tspan font-size="9" dy="-8" letter-spacing="0">18</tspan></text>
<polyline points="327,74.6 337.62,58.3 348.24,43 358.86,39.8 369.48,36.3 380.1,33.2 390.72,34.9 401.34,32.8 411.96,33.8 422.58,30.6 433.2,32.3 443.82,31.7 454.44,32.3 465.06,30 475.68,32.3 486.3,32.1 496.92,30.6 507.54,33.8 518.16,30.6 528.78,30.6 539.4,29.6" fill="none" stroke="#0a8a0a" stroke-width="1.3" stroke-linejoin="round"/>
<polygon points="327,71.5 327.97,73.27 329.95,73.64 328.57,75.11 328.82,77.11 327,76.25 325.18,77.11 325.43,75.11 324.05,73.64 326.03,73.27" fill="#0a8a0a" stroke="#fff" stroke-width="1.3" paint-order="stroke" stroke-linejoin="round"/>
<polygon points="337.62,55.2 338.59,56.97 340.57,57.34 339.19,58.81 339.44,60.81 337.62,59.95 335.8,60.81 336.05,58.81 334.67,57.34 336.65,56.97" fill="#0a8a0a" stroke="#fff" stroke-width="1.3" paint-order="stroke" stroke-linejoin="round"/>
<polygon points="348.24,39.9 349.21,41.67 351.19,42.04 349.81,43.51 350.06,45.51 348.24,44.65 346.42,45.51 346.67,43.51 345.29,42.04 347.27,41.67" fill="#0a8a0a" stroke="#fff" stroke-width="1.3" paint-order="stroke" stroke-linejoin="round"/>
<polygon points="358.86,36.7 359.83,38.47 361.81,38.84 360.43,40.31 360.68,42.31 358.86,41.45 357.04,42.31 357.29,40.31 355.91,38.84 357.89,38.47" fill="#0a8a0a" stroke="#fff" stroke-width="1.3" paint-order="stroke" stroke-linejoin="round"/>
<polygon points="369.48,33.2 370.45,34.97 372.43,35.34 371.05,36.81 371.3,38.81 369.48,37.95 367.66,38.81 367.91,36.81 366.53,35.34 368.51,34.97" fill="#0a8a0a" stroke="#fff" stroke-width="1.3" paint-order="stroke" stroke-linejoin="round"/>
<polygon points="380.1,30.1 381.07,31.87 383.05,32.24 381.67,33.71 381.92,35.71 380.1,34.85 378.28,35.71 378.53,33.71 377.15,32.24 379.13,31.87" fill="#0a8a0a" stroke="#fff" stroke-width="1.3" paint-order="stroke" stroke-linejoin="round"/>
<polygon points="390.72,31.8 391.69,33.57 393.67,33.94 392.29,35.41 392.54,37.41 390.72,36.55 388.9,37.41 389.15,35.41 387.77,33.94 389.75,33.57" fill="#0a8a0a" stroke="#fff" stroke-width="1.3" paint-order="stroke" stroke-linejoin="round"/>
<polygon points="401.34,29.7 402.31,31.47 404.29,31.84 402.91,33.31 403.16,35.31 401.34,34.45 399.52,35.31 399.77,33.31 398.39,31.84 400.37,31.47" fill="#0a8a0a" stroke="#fff" stroke-width="1.3" paint-order="stroke" stroke-linejoin="round"/>
<polygon points="411.96,30.7 412.93,32.47 414.91,32.84 413.53,34.31 413.78,36.31 411.96,35.45 410.14,36.31 410.39,34.31 409.01,32.84 410.99,32.47" fill="#0a8a0a" stroke="#fff" stroke-width="1.3" paint-order="stroke" stroke-linejoin="round"/>
<polygon points="422.58,27.5 423.55,29.27 425.53,29.64 424.15,31.11 424.4,33.11 422.58,32.25 420.76,33.11 421.01,31.11 419.63,29.64 421.61,29.27" fill="#0a8a0a" stroke="#fff" stroke-width="1.3" paint-order="stroke" stroke-linejoin="round"/>
<polygon points="433.2,29.2 434.17,30.97 436.15,31.34 434.77,32.81 435.02,34.81 433.2,33.95 431.38,34.81 431.63,32.81 430.25,31.34 432.23,30.97" fill="#0a8a0a" stroke="#fff" stroke-width="1.3" paint-order="stroke" stroke-linejoin="round"/>
<polygon points="443.82,28.6 444.79,30.37 446.77,30.74 445.39,32.21 445.64,34.21 443.82,33.35 442,34.21 442.25,32.21 440.87,30.74 442.85,30.37" fill="#0a8a0a" stroke="#fff" stroke-width="1.3" paint-order="stroke" stroke-linejoin="round"/>
<polygon points="454.44,29.2 455.41,30.97 457.39,31.34 456.01,32.81 456.26,34.81 454.44,33.95 452.62,34.81 452.87,32.81 451.49,31.34 453.47,30.97" fill="#0a8a0a" stroke="#fff" stroke-width="1.3" paint-order="stroke" stroke-linejoin="round"/>
<polygon points="465.06,26.9 466.03,28.67 468.01,29.04 466.63,30.51 466.88,32.51 465.06,31.65 463.24,32.51 463.49,30.51 462.11,29.04 464.09,28.67" fill="#0a8a0a" stroke="#fff" stroke-width="1.3" paint-order="stroke" stroke-linejoin="round"/>
<polygon points="475.68,29.2 476.65,30.97 478.63,31.34 477.25,32.81 477.5,34.81 475.68,33.95 473.86,34.81 474.11,32.81 472.73,31.34 474.71,30.97" fill="#0a8a0a" stroke="#fff" stroke-width="1.3" paint-order="stroke" stroke-linejoin="round"/>
<polygon points="486.3,29 487.27,30.77 489.25,31.14 487.87,32.61 488.12,34.61 486.3,33.75 484.48,34.61 484.73,32.61 483.35,31.14 485.33,30.77" fill="#0a8a0a" stroke="#fff" stroke-width="1.3" paint-order="stroke" stroke-linejoin="round"/>
<polygon points="496.92,27.5 497.89,29.27 499.87,29.64 498.49,31.11 498.74,33.11 496.92,32.25 495.1,33.11 495.35,31.11 493.97,29.64 495.95,29.27" fill="#0a8a0a" stroke="#fff" stroke-width="1.3" paint-order="stroke" stroke-linejoin="round"/>
<polygon points="507.54,30.7 508.51,32.47 510.49,32.84 509.11,34.31 509.36,36.31 507.54,35.45 505.72,36.31 505.97,34.31 504.59,32.84 506.57,32.47" fill="#0a8a0a" stroke="#fff" stroke-width="1.3" paint-order="stroke" stroke-linejoin="round"/>
<polygon points="518.16,27.5 519.13,29.27 521.11,29.64 519.73,31.11 519.98,33.11 518.16,32.25 516.34,33.11 516.59,31.11 515.21,29.64 517.19,29.27" fill="#0a8a0a" stroke="#fff" stroke-width="1.3" paint-order="stroke" stroke-linejoin="round"/>
<polygon points="528.78,27.5 529.75,29.27 531.73,29.64 530.35,31.11 530.6,33.11 528.78,32.25 526.96,33.11 527.21,31.11 525.83,29.64 527.81,29.27" fill="#0a8a0a" stroke="#fff" stroke-width="1.3" paint-order="stroke" stroke-linejoin="round"/>
<polygon points="539.4,26.5 540.37,28.27 542.35,28.64 540.97,30.11 541.22,32.11 539.4,31.25 537.58,32.11 537.83,30.11 536.45,28.64 538.43,28.27" fill="#0a8a0a" stroke="#fff" stroke-width="1.3" paint-order="stroke" stroke-linejoin="round"/>
<circle cx="348.2" cy="43" r="3.6" fill="#fff" stroke="#ff2a2a" stroke-width="1.1"/>
<text x="374.4" y="52.2" font-family="Liberation Sans" font-size="12.5" text-anchor="start" font-weight="normal" fill="#111" stroke="#111" stroke-width="0.26" >Bf=0.938</text>
<rect x="323.3" y="22.9" width="19.4" height="6" rx="1" fill="#fff" stroke="#9a9a9a" stroke-width="0.7"/>
<path d="M325.1 25.6h11" stroke="#0a8a0a" stroke-width="1.2"/>
<polygon points="330.8,22.9 331.56,24.45 333.27,24.7 332.04,25.9 332.33,27.6 330.8,26.8 329.27,27.6 329.56,25.9 328.33,24.7 330.04,24.45" fill="#0a8a0a"/>
<text x="337.5" y="27.9" font-family="Liberation Sans" font-size="4.2" text-anchor="start" font-weight="normal" fill="#777" stroke="#777" stroke-width="0.26" >Bf</text>
<polyline points="327,111.2 337.62,109.7 348.24,108.2 358.86,108.2 369.48,108.2 380.1,108.2 390.72,108.2 401.34,108.2 411.96,108.2 422.58,108.2 433.2,108.2 443.82,108.2 454.44,108.2 465.06,108.2 475.68,108.2 486.3,108.2 496.92,108.2 507.54,108.2 518.16,108.2 528.78,108.2 539.4,108.2" fill="none" stroke="#8a22f4" stroke-width="1.2" stroke-linejoin="round"/>
<circle cx="327" cy="111.2" r="2.45" fill="#8a22f4"/><circle cx="337.62" cy="109.7" r="2.45" fill="#8a22f4"/><circle cx="348.24" cy="108.2" r="2.45" fill="#8a22f4"/><circle cx="358.86" cy="108.2" r="2.45" fill="#8a22f4"/><circle cx="369.48" cy="108.2" r="2.45" fill="#8a22f4"/><circle cx="380.1" cy="108.2" r="2.45" fill="#8a22f4"/><circle cx="390.72" cy="108.2" r="2.45" fill="#8a22f4"/><circle cx="401.34" cy="108.2" r="2.45" fill="#8a22f4"/><circle cx="411.96" cy="108.2" r="2.45" fill="#8a22f4"/><circle cx="422.58" cy="108.2" r="2.45" fill="#8a22f4"/><circle cx="433.2" cy="108.2" r="2.45" fill="#8a22f4"/><circle cx="443.82" cy="108.2" r="2.45" fill="#8a22f4"/><circle cx="454.44" cy="108.2" r="2.45" fill="#8a22f4"/><circle cx="465.06" cy="108.2" r="2.45" fill="#8a22f4"/><circle cx="475.68" cy="108.2" r="2.45" fill="#8a22f4"/><circle cx="486.3" cy="108.2" r="2.45" fill="#8a22f4"/><circle cx="496.92" cy="108.2" r="2.45" fill="#8a22f4"/><circle cx="507.54" cy="108.2" r="2.45" fill="#8a22f4"/><circle cx="518.16" cy="108.2" r="2.45" fill="#8a22f4"/><circle cx="528.78" cy="108.2" r="2.45" fill="#8a22f4"/><circle cx="539.4" cy="108.2" r="2.45" fill="#8a22f4"/>
<polyline points="327,125.7 337.62,123.4 348.24,120.6 358.86,120.6 369.48,120.6 380.1,120.6 390.72,120.6 401.34,120.6 411.96,120.6 422.58,120.6 433.2,120.6 443.82,120.6 454.44,120.6 465.06,120.6 475.68,120.6 486.3,120.6 496.92,120.6 507.54,120.6 518.16,120.6 528.78,120.6 539.4,120.6" fill="none" stroke="#000000" stroke-width="1.2" stroke-linejoin="round"/>
<circle cx="327" cy="125.7" r="2.45" fill="#000000"/><circle cx="337.62" cy="123.4" r="2.45" fill="#000000"/><circle cx="348.24" cy="120.6" r="2.45" fill="#000000"/><circle cx="358.86" cy="120.6" r="2.45" fill="#000000"/><circle cx="369.48" cy="120.6" r="2.45" fill="#000000"/><circle cx="380.1" cy="120.6" r="2.45" fill="#000000"/><circle cx="390.72" cy="120.6" r="2.45" fill="#000000"/><circle cx="401.34" cy="120.6" r="2.45" fill="#000000"/><circle cx="411.96" cy="120.6" r="2.45" fill="#000000"/><circle cx="422.58" cy="120.6" r="2.45" fill="#000000"/><circle cx="433.2" cy="120.6" r="2.45" fill="#000000"/><circle cx="443.82" cy="120.6" r="2.45" fill="#000000"/><circle cx="454.44" cy="120.6" r="2.45" fill="#000000"/><circle cx="465.06" cy="120.6" r="2.45" fill="#000000"/><circle cx="475.68" cy="120.6" r="2.45" fill="#000000"/><circle cx="486.3" cy="120.6" r="2.45" fill="#000000"/><circle cx="496.92" cy="120.6" r="2.45" fill="#000000"/><circle cx="507.54" cy="120.6" r="2.45" fill="#000000"/><circle cx="518.16" cy="120.6" r="2.45" fill="#000000"/><circle cx="528.78" cy="120.6" r="2.45" fill="#000000"/><circle cx="539.4" cy="120.6" r="2.45" fill="#000000"/>
<polyline points="327,202.5 337.62,198.2 348.24,193.3 358.86,193.7 369.48,193.5 380.1,193.5 390.72,193.5 401.34,193.5 411.96,193.5 422.58,193.5 433.2,193.5 443.82,193 454.44,193 465.06,193 475.68,193 486.3,193 496.92,193 507.54,193 518.16,193 528.78,193 539.4,193" fill="none" stroke="#8a22f4" stroke-width="1.2" stroke-linejoin="round"/>
<circle cx="327" cy="202.5" r="2.45" fill="#8a22f4"/><circle cx="337.62" cy="198.2" r="2.45" fill="#8a22f4"/><circle cx="348.24" cy="193.3" r="2.45" fill="#8a22f4"/><circle cx="358.86" cy="193.7" r="2.45" fill="#8a22f4"/><circle cx="369.48" cy="193.5" r="2.45" fill="#8a22f4"/><circle cx="380.1" cy="193.5" r="2.45" fill="#8a22f4"/><circle cx="390.72" cy="193.5" r="2.45" fill="#8a22f4"/><circle cx="401.34" cy="193.5" r="2.45" fill="#8a22f4"/><circle cx="411.96" cy="193.5" r="2.45" fill="#8a22f4"/><circle cx="422.58" cy="193.5" r="2.45" fill="#8a22f4"/><circle cx="433.2" cy="193.5" r="2.45" fill="#8a22f4"/><circle cx="443.82" cy="193" r="2.45" fill="#8a22f4"/><circle cx="454.44" cy="193" r="2.45" fill="#8a22f4"/><circle cx="465.06" cy="193" r="2.45" fill="#8a22f4"/><circle cx="475.68" cy="193" r="2.45" fill="#8a22f4"/><circle cx="486.3" cy="193" r="2.45" fill="#8a22f4"/><circle cx="496.92" cy="193" r="2.45" fill="#8a22f4"/><circle cx="507.54" cy="193" r="2.45" fill="#8a22f4"/><circle cx="518.16" cy="193" r="2.45" fill="#8a22f4"/><circle cx="528.78" cy="193" r="2.45" fill="#8a22f4"/><circle cx="539.4" cy="193" r="2.45" fill="#8a22f4"/>
<polyline points="327,197.3 337.62,193.7 348.24,190.3 358.86,190.3 369.48,190.3 380.1,191.1 390.72,190.3 401.34,190.1 411.96,190.3 422.58,190.3 433.2,190.3 443.82,190.1 454.44,190.1 465.06,190.3 475.68,190.3 486.3,190.1 496.92,190.3 507.54,190.3 518.16,190.3 528.78,190.5 539.4,190.1" fill="none" stroke="#000000" stroke-width="1.2" stroke-linejoin="round"/>
<circle cx="327" cy="197.3" r="2.45" fill="#000000"/><circle cx="337.62" cy="193.7" r="2.45" fill="#000000"/><circle cx="348.24" cy="190.3" r="2.45" fill="#000000"/><circle cx="358.86" cy="190.3" r="2.45" fill="#000000"/><circle cx="369.48" cy="190.3" r="2.45" fill="#000000"/><circle cx="380.1" cy="191.1" r="2.45" fill="#000000"/><circle cx="390.72" cy="190.3" r="2.45" fill="#000000"/><circle cx="401.34" cy="190.1" r="2.45" fill="#000000"/><circle cx="411.96" cy="190.3" r="2.45" fill="#000000"/><circle cx="422.58" cy="190.3" r="2.45" fill="#000000"/><circle cx="433.2" cy="190.3" r="2.45" fill="#000000"/><circle cx="443.82" cy="190.1" r="2.45" fill="#000000"/><circle cx="454.44" cy="190.1" r="2.45" fill="#000000"/><circle cx="465.06" cy="190.3" r="2.45" fill="#000000"/><circle cx="475.68" cy="190.3" r="2.45" fill="#000000"/><circle cx="486.3" cy="190.1" r="2.45" fill="#000000"/><circle cx="496.92" cy="190.3" r="2.45" fill="#000000"/><circle cx="507.54" cy="190.3" r="2.45" fill="#000000"/><circle cx="518.16" cy="190.3" r="2.45" fill="#000000"/><circle cx="528.78" cy="190.5" r="2.45" fill="#000000"/><circle cx="539.4" cy="190.1" r="2.45" fill="#000000"/>
<polyline points="327,226.5 337.62,226.5 348.24,226.5 358.86,226.5 369.48,226.5 380.1,226.5 390.72,226.5 401.34,226.5 411.96,226.5 422.58,226.5 433.2,226.5 443.82,226.5 454.44,226.5 465.06,226.5 475.68,226.5 486.3,226.5 496.92,226.5 507.54,226.5 518.16,226.5 528.78,226.5 539.4,226.5" fill="none" stroke="#8a22f4" stroke-width="1.2" stroke-linejoin="round"/>
<circle cx="327" cy="226.5" r="2.45" fill="#8a22f4"/><circle cx="337.62" cy="226.5" r="2.45" fill="#8a22f4"/><circle cx="348.24" cy="226.5" r="2.45" fill="#8a22f4"/><circle cx="358.86" cy="226.5" r="2.45" fill="#8a22f4"/><circle cx="369.48" cy="226.5" r="2.45" fill="#8a22f4"/><circle cx="380.1" cy="226.5" r="2.45" fill="#8a22f4"/><circle cx="390.72" cy="226.5" r="2.45" fill="#8a22f4"/><circle cx="401.34" cy="226.5" r="2.45" fill="#8a22f4"/><circle cx="411.96" cy="226.5" r="2.45" fill="#8a22f4"/><circle cx="422.58" cy="226.5" r="2.45" fill="#8a22f4"/><circle cx="433.2" cy="226.5" r="2.45" fill="#8a22f4"/><circle cx="443.82" cy="226.5" r="2.45" fill="#8a22f4"/><circle cx="454.44" cy="226.5" r="2.45" fill="#8a22f4"/><circle cx="465.06" cy="226.5" r="2.45" fill="#8a22f4"/><circle cx="475.68" cy="226.5" r="2.45" fill="#8a22f4"/><circle cx="486.3" cy="226.5" r="2.45" fill="#8a22f4"/><circle cx="496.92" cy="226.5" r="2.45" fill="#8a22f4"/><circle cx="507.54" cy="226.5" r="2.45" fill="#8a22f4"/><circle cx="518.16" cy="226.5" r="2.45" fill="#8a22f4"/><circle cx="528.78" cy="226.5" r="2.45" fill="#8a22f4"/><circle cx="539.4" cy="226.5" r="2.45" fill="#8a22f4"/>
<polyline points="327,246 337.62,244.1 348.24,242.5 358.86,242.2 369.48,242.1 380.1,242.1 390.72,242.1 401.34,242.1 411.96,242.1 422.58,242.1 433.2,242.1 443.82,242.1 454.44,242.1 465.06,242.1 475.68,242.1 486.3,242.1 496.92,242.1 507.54,242.1 518.16,242.1 528.78,242.1 539.4,242.1" fill="none" stroke="#000000" stroke-width="1.2" stroke-linejoin="round"/>
<circle cx="327" cy="246" r="2.45" fill="#000000"/><circle cx="337.62" cy="244.1" r="2.45" fill="#000000"/><circle cx="348.24" cy="242.5" r="2.45" fill="#000000"/><circle cx="358.86" cy="242.2" r="2.45" fill="#000000"/><circle cx="369.48" cy="242.1" r="2.45" fill="#000000"/><circle cx="380.1" cy="242.1" r="2.45" fill="#000000"/><circle cx="390.72" cy="242.1" r="2.45" fill="#000000"/><circle cx="401.34" cy="242.1" r="2.45" fill="#000000"/><circle cx="411.96" cy="242.1" r="2.45" fill="#000000"/><circle cx="422.58" cy="242.1" r="2.45" fill="#000000"/><circle cx="433.2" cy="242.1" r="2.45" fill="#000000"/><circle cx="443.82" cy="242.1" r="2.45" fill="#000000"/><circle cx="454.44" cy="242.1" r="2.45" fill="#000000"/><circle cx="465.06" cy="242.1" r="2.45" fill="#000000"/><circle cx="475.68" cy="242.1" r="2.45" fill="#000000"/><circle cx="486.3" cy="242.1" r="2.45" fill="#000000"/><circle cx="496.92" cy="242.1" r="2.45" fill="#000000"/><circle cx="507.54" cy="242.1" r="2.45" fill="#000000"/><circle cx="518.16" cy="242.1" r="2.45" fill="#000000"/><circle cx="528.78" cy="242.1" r="2.45" fill="#000000"/><circle cx="539.4" cy="242.1" r="2.45" fill="#000000"/>
<polyline points="327,299.6 337.62,298.6 348.24,298.2 358.86,297.2 369.48,298.2 380.1,298.8 390.72,298.2 401.34,297.8 411.96,298.2 422.58,298.8 433.2,298 443.82,298.4 454.44,297.8 465.06,299.3 475.68,297.8 486.3,297.1 496.92,297.8 507.54,298.8 518.16,297.8 528.78,297.8 539.4,298.2" fill="none" stroke="#8a22f4" stroke-width="1.2" stroke-linejoin="round"/>
<circle cx="327" cy="299.6" r="2.45" fill="#8a22f4"/><circle cx="337.62" cy="298.6" r="2.45" fill="#8a22f4"/><circle cx="348.24" cy="298.2" r="2.45" fill="#8a22f4"/><circle cx="358.86" cy="297.2" r="2.45" fill="#8a22f4"/><circle cx="369.48" cy="298.2" r="2.45" fill="#8a22f4"/><circle cx="380.1" cy="298.8" r="2.45" fill="#8a22f4"/><circle cx="390.72" cy="298.2" r="2.45" fill="#8a22f4"/><circle cx="401.34" cy="297.8" r="2.45" fill="#8a22f4"/><circle cx="411.96" cy="298.2" r="2.45" fill="#8a22f4"/><circle cx="422.58" cy="298.8" r="2.45" fill="#8a22f4"/><circle cx="433.2" cy="298" r="2.45" fill="#8a22f4"/><circle cx="443.82" cy="298.4" r="2.45" fill="#8a22f4"/><circle cx="454.44" cy="297.8" r="2.45" fill="#8a22f4"/><circle cx="465.06" cy="299.3" r="2.45" fill="#8a22f4"/><circle cx="475.68" cy="297.8" r="2.45" fill="#8a22f4"/><circle cx="486.3" cy="297.1" r="2.45" fill="#8a22f4"/><circle cx="496.92" cy="297.8" r="2.45" fill="#8a22f4"/><circle cx="507.54" cy="298.8" r="2.45" fill="#8a22f4"/><circle cx="518.16" cy="297.8" r="2.45" fill="#8a22f4"/><circle cx="528.78" cy="297.8" r="2.45" fill="#8a22f4"/><circle cx="539.4" cy="298.2" r="2.45" fill="#8a22f4"/>
<polyline points="327,337.3 337.62,319.7 348.24,301.7 358.86,302.9 369.48,301.7 380.1,300.9 390.72,301.7 401.34,301.7 411.96,301.7 422.58,302.7 433.2,301.7 443.82,301.6 454.44,301.6 465.06,303.1 475.68,301.6 486.3,302.4 496.92,301.6 507.54,301.6 518.16,301.6 528.78,302.7 539.4,301.6" fill="none" stroke="#000000" stroke-width="1.2" stroke-linejoin="round"/>
<circle cx="327" cy="337.3" r="2.45" fill="#000000"/><circle cx="337.62" cy="319.7" r="2.45" fill="#000000"/><circle cx="348.24" cy="301.7" r="2.45" fill="#000000"/><circle cx="358.86" cy="302.9" r="2.45" fill="#000000"/><circle cx="369.48" cy="301.7" r="2.45" fill="#000000"/><circle cx="380.1" cy="300.9" r="2.45" fill="#000000"/><circle cx="390.72" cy="301.7" r="2.45" fill="#000000"/><circle cx="401.34" cy="301.7" r="2.45" fill="#000000"/><circle cx="411.96" cy="301.7" r="2.45" fill="#000000"/><circle cx="422.58" cy="302.7" r="2.45" fill="#000000"/><circle cx="433.2" cy="301.7" r="2.45" fill="#000000"/><circle cx="443.82" cy="301.6" r="2.45" fill="#000000"/><circle cx="454.44" cy="301.6" r="2.45" fill="#000000"/><circle cx="465.06" cy="303.1" r="2.45" fill="#000000"/><circle cx="475.68" cy="301.6" r="2.45" fill="#000000"/><circle cx="486.3" cy="302.4" r="2.45" fill="#000000"/><circle cx="496.92" cy="301.6" r="2.45" fill="#000000"/><circle cx="507.54" cy="301.6" r="2.45" fill="#000000"/><circle cx="518.16" cy="301.6" r="2.45" fill="#000000"/><circle cx="528.78" cy="302.7" r="2.45" fill="#000000"/><circle cx="539.4" cy="301.6" r="2.45" fill="#000000"/>
<path d="M488.2 161.6H510.5" stroke="#000" stroke-width="1.2"/>
<circle cx="499.1" cy="161.6" r="3.9" fill="#000"/>
<path d="M488.2 173.3H510.5" stroke="#8a22f4" stroke-width="1.2"/>
<circle cx="499.1" cy="173.3" r="3.9" fill="#8a22f4"/>
<text x="513" y="164.9" font-family="Liberation Sans" font-size="9.6" text-anchor="start" font-weight="normal" fill="#1a1a1a" stroke="#1a1a1a" stroke-width="0.26" >Back</text>
<text x="513" y="176.6" font-family="Liberation Sans" font-size="9.6" text-anchor="start" font-weight="normal" fill="#1a1a1a" stroke="#1a1a1a" stroke-width="0.26" >Front</text>
</svg></body></html>
